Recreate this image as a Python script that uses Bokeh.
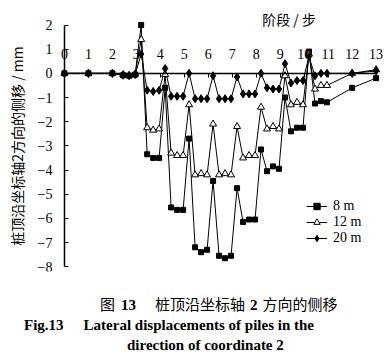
from bokeh.plotting import figure
from bokeh.models import FixedTicker, Legend, LegendItem, Label, Div, Range1d
from bokeh.layouts import column
from bokeh.embed import file_html
from bokeh.resources import INLINE

# ---- data ----
stage = [0, 1, 2, 2.45, 2.7, 2.95, 3.2, 3.45, 3.7, 3.95, 4.2, 4.45, 4.7, 4.95,
         5.2, 5.45, 5.7, 5.95, 6.2, 6.45, 6.7, 6.95, 7.2, 7.45, 7.7, 7.95,
         8.2, 8.45, 8.7, 8.95, 9.2, 9.45, 9.7, 9.95, 10.2, 10.45, 10.7, 10.95, 12, 13]
disp_8m = [0, 0, 0, -0.08, -0.1, -0.05, 2.0, -3.35, -3.5, -3.5, -0.6, -5.55, -5.65, -5.65,
           -2.7, -7.2, -7.4, -7.3, -4.45, -7.55, -7.65, -7.55, -4.75, -6.15, -6.05, -6.05,
           -3.15, -4.05, -3.85, -3.95, -1.0, -2.4, -2.25, -2.25, 0.9, -1.25, -1.15, -1.2, -0.6, -0.2]
disp_12m = [0, 0, 0, -0.05, -0.08, -0.03, 1.4, -2.25, -2.35, -2.3, -0.05, -3.3, -3.4, -3.4,
            -1.3, -4.2, -4.15, -4.2, -2.1, -4.2, -4.15, -4.2, -2.2, -3.5, -3.4, -3.4,
            -1.4, -2.3, -2.2, -2.3, -0.1, -1.3, -1.2, -1.3, 0.8, -0.65, -0.5, -0.5, 0.0, 0.15]
disp_20m = [0, 0, 0, -0.08, -0.1, -0.05, 0.8, -0.7, -0.75, -0.7, 0.2, -0.95, -0.95, -0.95,
            0.0, -1.05, -1.05, -1.05, -0.1, -1.05, -1.05, -1.05, -0.15, -0.85, -0.85, -0.85,
            0.0, -0.6, -0.65, -0.65, 0.4, -0.4, -0.3, -0.3, 0.7, -0.1, 0.0, 0.0, 0.0, 0.1]
series_labels = ["8 m", "12 m", "20 m"]
x_ticks = list(range(0, 14))
y_ticks = list(range(-8, 3))
x_title = "阶段 / 步"
y_title = "桩顶沿坐标轴2方向的侧移 / mm"
cap_cn = ["图", "13", "桩顶沿坐标轴", "2", "方向的侧移"]
cap_en1 = ["Fig.13", "Lateral displacements of piles in the"]
cap_en2 = "direction of coordinate 2"

SERIF = "Liberation Serif"
CJK = "Noto Sans CJK SC"

p = figure(width=388, height=283,
           x_range=Range1d(-2.5, 13.35), y_range=Range1d(-8.2, 2.6),
           x_axis_location="above", y_axis_location="left",
           output_backend="svg", toolbar_location=None, title=None,
           min_border_left=4, min_border_right=4, min_border_top=10, min_border_bottom=12)
p.outline_line_color = None
p.grid.visible = False
p.background_fill_color = "white"
p.border_fill_color = "white"

# x axis drawn at y = 0
xa = p.xaxis[0]
xa.fixed_location = 0
xa.bounds = (0, 13)
xa.ticker = FixedTicker(ticks=x_ticks)
xa.major_tick_in = 4
xa.major_tick_out = 0
xa.minor_tick_in = 0
xa.minor_tick_out = 0
xa.major_label_standoff = 14
xa.axis_line_width = 1.5
xa.axis_line_color = "black"
xa.major_tick_line_color = "black"
xa.major_label_text_font = SERIF
xa.major_label_text_font_size = "14px"
xa.major_label_text_color = "black"

# y axis drawn at x = 0
ya = p.yaxis[0]
ya.fixed_location = 0
ya.bounds = (-8, 2)
ya.ticker = FixedTicker(ticks=y_ticks)
ya.major_tick_in = 4
ya.major_tick_out = 0
ya.minor_tick_in = 0
ya.minor_tick_out = 0
ya.major_label_standoff = 12
ya.axis_line_width = 1.5
ya.axis_line_color = "black"
ya.major_tick_line_color = "black"
ya.major_label_text_font = SERIF
ya.major_label_text_font_size = "14px"
ya.major_label_text_color = "black"
ya.axis_label = y_title
ya.axis_label_text_font = CJK
ya.axis_label_text_font_size = "14px"
ya.axis_label_text_font_style = "normal"
ya.axis_label_text_color = "black"
ya.axis_label_standoff = 8

l1 = p.line(stage, disp_8m, line_color="black", line_width=1)
l2 = p.line(stage, disp_12m, line_color="black", line_width=1)
l3 = p.line(stage, disp_20m, line_color="black", line_width=1)
s1 = p.scatter(stage, disp_8m, marker="square", size=5, fill_color="black", line_color="black")
s2 = p.scatter(stage, disp_12m, marker="triangle", size=7, fill_color="white", line_color="black", line_width=1)
s3 = p.scatter(stage, disp_20m, marker="diamond", size=8, fill_color="black", line_color="black")

legend = Legend(items=[LegendItem(label=series_labels[0], renderers=[l1, s1]),
                       LegendItem(label=series_labels[1], renderers=[l2, s2]),
                       LegendItem(label=series_labels[2], renderers=[l3, s3])],
                location=(302, 25), padding=0, margin=0, spacing=-1,
                border_line_color=None, background_fill_alpha=0,
                glyph_width=21, glyph_height=16, label_height=16, label_standoff=6,
                label_text_font=SERIF, label_text_font_size="14px", label_text_color="black")
p.add_layout(legend)

p.add_layout(Label(x=8.25, y=2.23, text=x_title, text_font=CJK, text_font_size="14px",
                   text_baseline="middle", text_align="left", text_color="black"))

html = (
    '<div style="font-size:15px;line-height:20px;padding-top:6px;white-space:nowrap;color:black;">'
    f'<div style="margin-left:95px;font-family:\'{CJK}\';">{cap_cn[0]}'
    f'<b style="font-family:\'{SERIF}\';margin-left:6px;">{cap_cn[1]}</b>'
    f'<span style="margin-left:19px;">{cap_cn[2]}</span>'
    f'<b style="font-family:\'{SERIF}\';margin-left:5px;">{cap_cn[3]}</b>'
    f'<span style="margin-left:5px;">{cap_cn[4]}</span></div>'
    f'<div style="margin-left:19px;font-family:\'{SERIF}\';font-weight:bold;">{cap_en1[0]}'
    f'<span style="margin-left:20px;">{cap_en1[1]}</span></div>'
    f'<div style="margin-left:122px;font-family:\'{SERIF}\';font-weight:bold;">{cap_en2}</div>'
    '</div>'
)
cap = Div(text=html, width=380, height=66)

layout = column(p, cap)
open("out.html", "w").write(file_html(layout, INLINE))
